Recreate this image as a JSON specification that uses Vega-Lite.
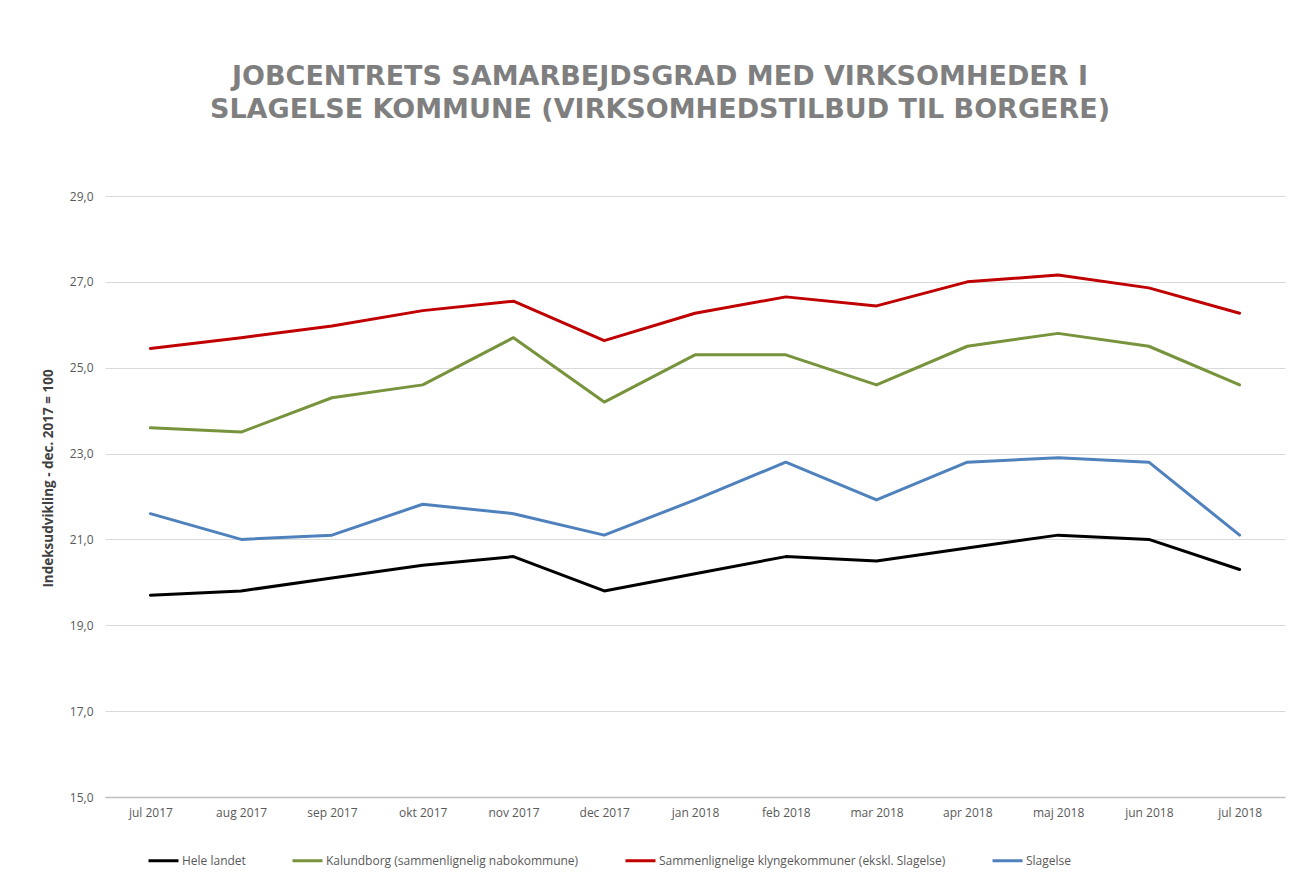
{
  "$schema": "https://vega.github.io/schema/vega-lite/v6.json",
  "autosize": "none",
  "width": 1180,
  "height": 601,
  "padding": {"left": 105, "top": 196, "right": 17, "bottom": 78},
  "background": "white",
  "title": {
    "text": ["JOBCENTRETS SAMARBEJDSGRAD MED VIRKSOMHEDER I", "SLAGELSE KOMMUNE (VIRKSOMHEDSTILBUD TIL BORGERE)"],
    "font": "DejaVu Sans",
    "fontSize": 27,
    "fontWeight": "bold",
    "color": "#7F7F7F",
    "lineHeight": 33,
    "anchor": "middle",
    "dx": -35,
    "offset": 66
  },
  "data": {
    "values": [
      {"m": "jul 2017", "s": "Hele landet", "v": 19.7},
      {"m": "aug 2017", "s": "Hele landet", "v": 19.8},
      {"m": "sep 2017", "s": "Hele landet", "v": 20.1},
      {"m": "okt 2017", "s": "Hele landet", "v": 20.4},
      {"m": "nov 2017", "s": "Hele landet", "v": 20.6},
      {"m": "dec 2017", "s": "Hele landet", "v": 19.8},
      {"m": "jan 2018", "s": "Hele landet", "v": 20.2},
      {"m": "feb 2018", "s": "Hele landet", "v": 20.6},
      {"m": "mar 2018", "s": "Hele landet", "v": 20.5},
      {"m": "apr 2018", "s": "Hele landet", "v": 20.8},
      {"m": "maj 2018", "s": "Hele landet", "v": 21.1},
      {"m": "jun 2018", "s": "Hele landet", "v": 21.0},
      {"m": "jul 2018", "s": "Hele landet", "v": 20.3},
      {"m": "jul 2017", "s": "Kalundborg (sammenlignelig nabokommune)", "v": 23.6},
      {"m": "aug 2017", "s": "Kalundborg (sammenlignelig nabokommune)", "v": 23.5},
      {"m": "sep 2017", "s": "Kalundborg (sammenlignelig nabokommune)", "v": 24.3},
      {"m": "okt 2017", "s": "Kalundborg (sammenlignelig nabokommune)", "v": 24.6},
      {"m": "nov 2017", "s": "Kalundborg (sammenlignelig nabokommune)", "v": 25.7},
      {"m": "dec 2017", "s": "Kalundborg (sammenlignelig nabokommune)", "v": 24.2},
      {"m": "jan 2018", "s": "Kalundborg (sammenlignelig nabokommune)", "v": 25.3},
      {"m": "feb 2018", "s": "Kalundborg (sammenlignelig nabokommune)", "v": 25.3},
      {"m": "mar 2018", "s": "Kalundborg (sammenlignelig nabokommune)", "v": 24.6},
      {"m": "apr 2018", "s": "Kalundborg (sammenlignelig nabokommune)", "v": 25.5},
      {"m": "maj 2018", "s": "Kalundborg (sammenlignelig nabokommune)", "v": 25.8},
      {"m": "jun 2018", "s": "Kalundborg (sammenlignelig nabokommune)", "v": 25.5},
      {"m": "jul 2018", "s": "Kalundborg (sammenlignelig nabokommune)", "v": 24.6},
      {"m": "jul 2017", "s": "Sammenlignelige klyngekommuner (ekskl. Slagelse)", "v": 25.45},
      {"m": "aug 2017", "s": "Sammenlignelige klyngekommuner (ekskl. Slagelse)", "v": 25.7},
      {"m": "sep 2017", "s": "Sammenlignelige klyngekommuner (ekskl. Slagelse)", "v": 25.97},
      {"m": "okt 2017", "s": "Sammenlignelige klyngekommuner (ekskl. Slagelse)", "v": 26.33},
      {"m": "nov 2017", "s": "Sammenlignelige klyngekommuner (ekskl. Slagelse)", "v": 26.55},
      {"m": "dec 2017", "s": "Sammenlignelige klyngekommuner (ekskl. Slagelse)", "v": 25.63},
      {"m": "jan 2018", "s": "Sammenlignelige klyngekommuner (ekskl. Slagelse)", "v": 26.27},
      {"m": "feb 2018", "s": "Sammenlignelige klyngekommuner (ekskl. Slagelse)", "v": 26.65},
      {"m": "mar 2018", "s": "Sammenlignelige klyngekommuner (ekskl. Slagelse)", "v": 26.44},
      {"m": "apr 2018", "s": "Sammenlignelige klyngekommuner (ekskl. Slagelse)", "v": 27.0},
      {"m": "maj 2018", "s": "Sammenlignelige klyngekommuner (ekskl. Slagelse)", "v": 27.16},
      {"m": "jun 2018", "s": "Sammenlignelige klyngekommuner (ekskl. Slagelse)", "v": 26.86},
      {"m": "jul 2018", "s": "Sammenlignelige klyngekommuner (ekskl. Slagelse)", "v": 26.27},
      {"m": "jul 2017", "s": "Slagelse", "v": 21.6},
      {"m": "aug 2017", "s": "Slagelse", "v": 21.0},
      {"m": "sep 2017", "s": "Slagelse", "v": 21.1},
      {"m": "okt 2017", "s": "Slagelse", "v": 21.82},
      {"m": "nov 2017", "s": "Slagelse", "v": 21.6},
      {"m": "dec 2017", "s": "Slagelse", "v": 21.1},
      {"m": "jan 2018", "s": "Slagelse", "v": 21.92},
      {"m": "feb 2018", "s": "Slagelse", "v": 22.8},
      {"m": "mar 2018", "s": "Slagelse", "v": 21.92},
      {"m": "apr 2018", "s": "Slagelse", "v": 22.8},
      {"m": "maj 2018", "s": "Slagelse", "v": 22.9},
      {"m": "jun 2018", "s": "Slagelse", "v": 22.8},
      {"m": "jul 2018", "s": "Slagelse", "v": 21.1}
    ]
  },
  "mark": {"type": "line", "strokeCap": "round", "strokeJoin": "round"},
  "encoding": {
    "x": {
      "field": "m",
      "type": "ordinal",
      "sort": null,
      "scale": {"type": "point", "padding": 0.5},
      "axis": {
        "title": null,
        "labelAngle": 0,
        "labelFont": "Open Sans",
        "labelFontSize": 12,
        "labelColor": "#595959",
        "labelPadding": 10,
        "ticks": false,
        "grid": false,
        "domainColor": "#BFBFBF",
        "domainWidth": 1.5
      }
    },
    "y": {
      "field": "v",
      "type": "quantitative",
      "scale": {"domain": [15, 29], "nice": false, "zero": false},
      "axis": {
        "title": "Indeksudvikling - dec. 2017 = 100",
        "titleFont": "Open Sans",
        "titleFontSize": 13.5,
        "titleFontWeight": "bold",
        "titleColor": "#404040",
        "titlePadding": 14,
        "titleY": 282,
        "values": [15, 17, 19, 21, 23, 25, 27, 29],
        "format": ".1f",
        "labelExpr": "replace(datum.label, '.', ',')",
        "labelFont": "Open Sans",
        "labelFontSize": 12,
        "labelColor": "#595959",
        "labelPadding": 12,
        "ticks": false,
        "domain": false,
        "grid": true,
        "gridColor": "#D9D9D9",
        "gridWidth": 1
      }
    },
    "color": {
      "field": "s",
      "type": "nominal",
      "scale": {
        "domain": ["Hele landet", "Kalundborg (sammenlignelig nabokommune)", "Sammenlignelige klyngekommuner (ekskl. Slagelse)", "Slagelse"],
        "range": ["#000000", "#77933C", "#C00000", "#4F81BD"]
      },
      "legend": {
        "title": null,
        "orient": "none",
        "direction": "horizontal",
        "legendX": 42,
        "legendY": 648,
        "symbolType": "stroke",
        "symbolSize": 900,
        "symbolStrokeWidth": 3.5,
        "labelFont": "Open Sans",
        "labelFontSize": 12,
        "labelColor": "#595959",
        "labelOffset": 2,
        "columnPadding": 40,
        "labelLimit": 400
      }
    },
    "strokeWidth": {
      "field": "s",
      "type": "nominal",
      "scale": {
        "domain": ["Hele landet", "Kalundborg (sammenlignelig nabokommune)", "Sammenlignelige klyngekommuner (ekskl. Slagelse)", "Slagelse"],
        "range": [3, 3, 3, 4.5]
      },
      "legend": null
    }
  },
  "config": {"view": {"stroke": null}}
}
